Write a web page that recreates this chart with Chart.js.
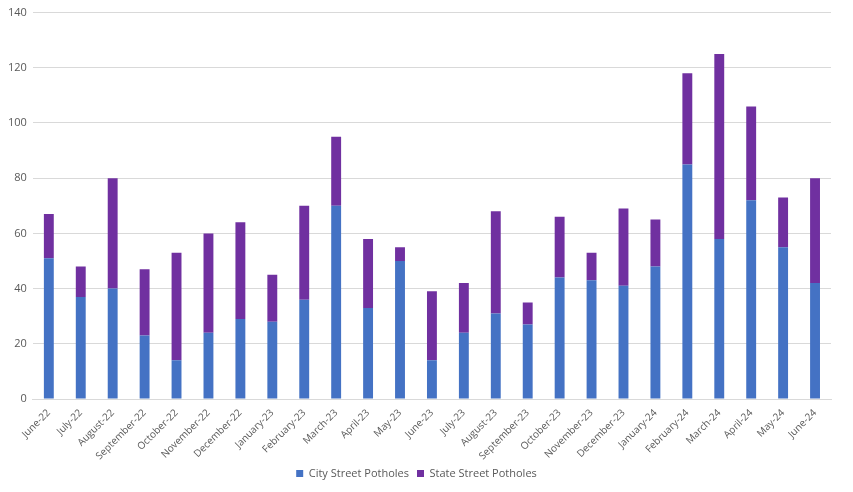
<!DOCTYPE html>
<html>
<head>
<meta charset="utf-8">
<script src="https://cdn.jsdelivr.net/npm/chart.js@4"></script>
<style>
  html, body { margin: 0; padding: 0; background: #fff; }
  #wrap { width: 853px; height: 492px; }
</style>
</head>
<body>
<div id="wrap"><canvas id="chart"></canvas></div>
<script>
const months = ['June-22', 'July-22', 'August-22', 'September-22', 'October-22', 'November-22', 'December-22',
  'January-23', 'February-23', 'March-23', 'April-23', 'May-23', 'June-23', 'July-23', 'August-23',
  'September-23', 'October-23', 'November-23', 'December-23', 'January-24', 'February-24', 'March-24',
  'April-24', 'May-24', 'June-24']
const cityPotholes = [51, 37, 40, 23, 14, 24, 29, 28, 36, 70, 33, 50, 14, 24, 31, 27, 44, 43, 41, 48, 85, 58, 72, 55, 42]
const statePotholes = [16, 11, 40, 24, 39, 36, 35, 17, 34, 25, 25, 5, 25, 18, 37, 8, 22, 10, 28, 17, 33, 67, 34, 18, 38]

Chart.defaults.font.family = 'Open Sans, Liberation Sans, sans-serif'
Chart.defaults.color = '#595959'

new Chart(document.getElementById('chart'), {
  type: 'bar',
  data: {
    labels: months,
    datasets: [
      { label: 'City Street Potholes', data: cityPotholes, backgroundColor: '#4472c4' },
      { label: 'State Street Potholes', data: statePotholes, backgroundColor: '#7030a0' }
    ]
  },
  options: {
    responsive: true,
    maintainAspectRatio: false,
    animation: false,
    layout: { padding: { left: 2, right: 22, top: 5, bottom: 3 } },
    datasets: { bar: { barPercentage: 0.31, categoryPercentage: 1 } },
    plugins: {
      legend: {
        position: 'bottom',
        labels: { boxWidth: 7, boxHeight: 7, font: { size: 11 }, padding: 8 }
      },
      tooltip: { enabled: false }
    },
    scales: {
      x: {
        stacked: true,
        grid: { display: false },
        border: { color: '#d9d9d9' },
        ticks: { maxRotation: 45, minRotation: 45, font: { size: 10 }, padding: 0 },
        afterFit: (scale) => { scale.height = 61 }
      },
      y: {
        stacked: true,
        min: 0,
        max: 140,
        ticks: { stepSize: 20, font: { size: 11 }, padding: 6 },
        grid: { color: '#d9d9d9', drawTicks: false },
        border: { display: false }
      }
    }
  }
})
</script>
</body>
</html>
